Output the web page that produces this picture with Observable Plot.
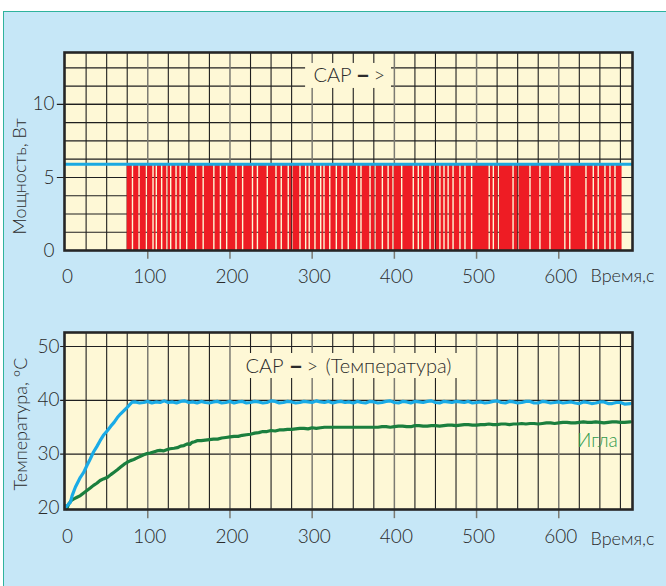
<!DOCTYPE html>
<html><head><meta charset="utf-8">
<script src="https://cdn.jsdelivr.net/npm/d3@7"></script>
<script src="https://cdn.jsdelivr.net/npm/@observablehq/plot@0.6"></script>
<style>
html,body{margin:0;padding:0;background:#fff;width:666px;height:586px;overflow:hidden;}
#bg{position:absolute;left:3px;top:11px;right:0;bottom:0;background:#c6e7f7;border-top:1.5px solid #2fb39d;border-left:1.5px solid #2fb39d;}
#top,#bot{position:absolute;left:0;}
#top{top:0;} #bot{top:290px;}
</style></head><body>
<div id="bg"></div><div id="top"></div><div id="bot"></div>
<script>
// ---- data ----
const timeTicks = [0, 100, 200, 300, 400, 500, 600];
const powerTicks = [0, 5, 10];
const tempTicks = [20, 30, 40, 50];
const timeLabel = "Время,с";
const powerTitle = "Мощность, Вт";
const tempTitle = "Температура, °С";
const noteHead = "САР";
const noteDash = "–";
const noteArrow = ">";
const noteTail = "(Температура)";
const needleLabel = "Игла";

const powerLevel = 5.9;          // constant available power (blue)
const pwmStart = 75, pwmEnd = 677, pwmHigh = 5.85;
// moments where the PWM signal leaves a gap (pale stripes), seconds
const pwmGaps = [82, 90, 99, 107, 111, 117.5, 124, 128.5, 135, 140, 148, 159, 168, 181, 189, 196.6,
  208, 216, 228, 234, 246, 256.6, 263, 271.5, 276, 285.8, 292.7, 297, 304, 311, 315, 322, 330, 337,
  344.5, 354.7, 360, 371, 377, 386, 393, 399, 409.5, 423.6, 429.7, 434.5, 444, 450, 456, 461, 466,
  472, 480.4, 486.5, 494.6, 516, 521, 527, 545, 551, 565.6, 577.7, 589.9, 608, 614, 633.7, 642.6,
  648.6, 656.8, 662.9, 669];

// temperature, regulated point (blue)
const tempCtrl = [[0,20.1],[3,20.6],[6,21.1],[8,22.3],[12,23.9],[18,25.7],[22,26.6],[26,27.9],[30,29.1],[34,30.4],
  [38,31.4],[42,32.5],[46,33.5],[51,34.4],[55,35.2],[59,35.9],[63,36.8],[67,37.5],[71,38.1],[75,38.7],[78,39.2],[81,39.65],
  [85,39.7],[90,39.5],[95,39.6],[100,39.8],[105,39.5],[110,39.7],[115,39.6],[120,39.9],[125,39.6],[130,39.7],[135,39.5],[140,39.8],[145,39.9],[150,39.6],[155,39.7],[160,39.5],[165,39.8],[170,39.6],[175,39.5],
  [180,39.7],[185,39.8],[190,39.5],[195,39.6],[200,39.8],[205,39.5],[210,39.7],[215,39.8],[220,39.5],[225,39.6],[230,39.8],[235,39.7],[240,39.5],[245,39.6],[250,39.9],[255,39.8],[260,39.5],[265,39.6],[270,39.8],[275,39.7],
  [280,39.5],[285,39.6],[290,39.8],[295,39.7],[300,39.6],[305,39.9],[310,39.7],[315,39.6],[320,39.8],[325,39.5],[330,39.7],[335,39.8],[340,39.6],[345,39.7],[350,39.5],[355,39.8],[360,39.6],[365,39.5],[370,39.8],[375,39.7],
  [380,39.5],[385,39.6],[390,39.8],[395,39.9],[400,39.6],[405,39.5],[410,39.8],[415,39.7],[420,39.5],[425,39.8],[430,39.7],[435,39.6],[440,39.8],[445,39.9],[450,39.6],[455,39.5],[460,39.8],[465,39.7],[470,39.6],[475,39.8],
  [480,39.7],[485,39.6],[490,39.8],[495,39.5],[500,39.6],[505,39.7],[510,39.5],[515,39.6],[520,39.8],[525,39.9],[530,39.6],[535,39.5],[540,39.8],[545,39.7],[550,39.5],[555,39.6],[560,39.8],[565,39.8],[570,39.5],[575,39.5],
  [580,39.8],[585,39.7],[590,39.5],[595,39.6],[600,39.7],[605,39.5],[610,39.6],[615,39.7],[620,39.5],[625,39.4],[630,39.7],[635,39.6],[640,39.4],[645,39.5],[650,39.7],[655,39.7],[660,39.4],[665,39.4],[670,39.6],[675,39.6],[680,39.3],[687,39.4]];

// temperature at the needle (green)
const tempNeedle = [[0,20.4],[1.5,19.9],[4,20.8],[7,21.4],[10,21.7],[14,22.0],[18,22.3],[22,22.8],[26,23.25],[30,23.7],
  [34,24.2],[38,24.6],[42,25.1],[46,25.4],[51,25.7],[55,26.2],[59,26.65],[63,27.1],[67,27.6],[71,28.1],[75,28.5],
  [79,28.8],[83,29.0],[87,29.3],[91,29.6],[95,29.9],[99,30.1],[103,30.2],[107,30.4],[111,30.6],[115,30.7],[119,30.6],[123,30.8],[127,31.0],[132,31.1],[136,31.2],[140,31.5],
  [144,31.6],[148,31.9],[151,31.8],[154,32.2],[157,32.3],[160,32.5],[165,32.5],[170,32.6],[175,32.7],[180,32.8],[185,32.8],[190,33.0],[195,33.1],[200,33.2],[205,33.3],[210,33.3],[215,33.5],[220,33.6],[225,33.7],[230,33.9],
  [235,34.0],[240,34.2],[245,34.2],[250,34.4],[255,34.3],[260,34.5],[265,34.5],[270,34.6],[275,34.6],[280,34.7],[285,34.8],[290,34.8],[295,34.7],[300,34.9],[305,34.8],[310,34.9],[315,35.0],[320,35.0],[330,35.0],
  [340,35.0],[350,35.0],[360,35.0],[370,35.0],[380,35.0],[385,35.1],[390,35.1],[395,35.0],[400,35.1],[405,35.2],[410,35.2],[415,35.1],[420,35.1],[425,35.3],[430,35.3],[435,35.2],
  [440,35.2],[445,35.3],[450,35.3],[455,35.2],[460,35.3],[465,35.4],[470,35.4],[475,35.3],[480,35.4],[485,35.5],[490,35.5],[495,35.4],[500,35.4],[505,35.5],[510,35.5],[515,35.6],[520,35.5],[525,35.5],[530,35.6],
  [535,35.6],[540,35.5],[545,35.6],[550,35.6],[555,35.7],[560,35.6],[565,35.7],[570,35.7],[575,35.6],[580,35.7],[585,35.8],[590,35.8],[595,35.7],[600,35.8],[605,35.9],[610,35.9],[615,35.8],[620,35.8],[625,35.9],[630,36.0],
  [635,35.9],[640,35.9],[645,36.0],[650,35.9],[655,35.8],[660,35.9],[665,36.0],[670,36.0],[675,35.9],[680,35.9],[687,36.0]];

// ---- styling ----
const font = "Lato, 'Open Sans', sans-serif";
const ink = "#2b2b2b";
const paper = "#fef8d6";
const gridDark = "#1f1f1f";
const gridMajor = "#7b7a72";
const xDom = [-1.3, 689.7];
const minorX = d3.range(25, 689, 25).filter(d => d % 100 !== 0);
const majorX = timeTicks.filter(d => d > 0);
const tw = 300;

// PWM "on" bands between the gaps
const half = 0.85;
const pwmOn = [];
{ let s = pwmStart;
  for (const g of pwmGaps) { pwmOn.push({x1: s, x2: g - half}); s = g + half; }
  pwmOn.push({x1: s, x2: pwmEnd}); }

const common = {
  width: 666, marginLeft: 64, marginRight: 34,
  style: {background: "transparent", fontFamily: font, overflow: "visible", color: ink}
};

// ---- top chart: power ----
const yTop = [0, 13.55];
const topPlot = Plot.plot({
  ...common, height: 290, marginTop: 52, marginBottom: 40,
  x: {domain: xDom, axis: null},
  y: {domain: yTop, axis: null},
  marks: [
    Plot.frame({fill: paper, stroke: null}),
    Plot.ruleY(d3.range(1.25, 13, 1.25), {x1: xDom[0], x2: xDom[1], stroke: gridDark, strokeWidth: 1.1}),
    Plot.ruleY(powerTicks.filter(d => d > 0), {x1: -10, x2: xDom[1], stroke: gridDark, strokeWidth: 1.1}),
    Plot.ruleX(minorX, {y1: 0, y2: yTop[1], stroke: gridDark, strokeWidth: 1.1}),
    Plot.ruleX(majorX, {y1: -0.6, y2: yTop[1], stroke: gridMajor, strokeWidth: 1.5}),
    Plot.rect(pwmOn, {x1: "x1", x2: "x2", y1: 0, y2: pwmHigh, fill: "#ee1c24"}),
    Plot.ruleY([powerLevel], {stroke: "#1aa9e1", strokeWidth: 3}),
    Plot.rect([{x1: 292, x2: 396.5, y1: 11.09, y2: 12.8}], {x1: "x1", x2: "x2", y1: "y1", y2: "y2", fill: paper}),
    Plot.text([noteHead], {x: 301.6, y: 11.98, text: d => d, textAnchor: "start", fontSize: 20, fontWeight: tw, fill: ink}),
    Plot.text([noteDash], {x: 361.8, y: 11.98, text: d => d, fontSize: 25, fontWeight: 900, fill: ink}),
    Plot.text([noteArrow], {x: 374.6, y: 11.98, text: d => d, textAnchor: "start", fontSize: 20, fontWeight: tw, fill: ink}),
    Plot.frame({stroke: "#262626", strokeWidth: 2.6}),
    Plot.text(timeTicks, {x: d => d, y: 0, dy: 26, dx: 2, text: d => String(d), fontSize: 19, fontWeight: tw, fill: ink}),
    Plot.text([timeLabel], {x: 638.6, y: 0, dy: 26, text: d => d, textAnchor: "start", fontSize: 18, fontWeight: tw, fill: ink}),
    Plot.text(powerTicks, {x: xDom[0], y: d => d, dx: -10, text: d => String(d), textAnchor: "end", fontSize: 19, fontWeight: tw, fill: ink}),
    Plot.text([powerTitle], {x: xDom[0], y: 5.07, dx: -44, text: d => d, rotate: -90, fontSize: 18, fontWeight: tw, fill: ink})
  ]
});
document.getElementById("top").appendChild(topPlot);

// ---- bottom chart: temperature ----
const yBot = [19.72, 52.6];
const botPlot = Plot.plot({
  ...common, height: 296, marginTop: 42, marginBottom: 77,
  x: {domain: xDom, axis: null},
  y: {domain: yBot, axis: null},
  marks: [
    Plot.frame({fill: paper, stroke: null}),
    Plot.ruleY(tempTicks.filter(d => d > 20), {x1: -6, x2: xDom[1], stroke: gridDark, strokeWidth: 1.1}),
    Plot.ruleX(minorX, {y1: yBot[0], y2: yBot[1], stroke: gridDark, strokeWidth: 1.1}),
    Plot.ruleX(majorX, {y1: yBot[0] - 1.7, y2: yBot[1], stroke: gridMajor, strokeWidth: 1.5}),
    Plot.rect([{x1: 210.4, x2: 486.6, y1: 44.05, y2: 48.7}], {x1: "x1", x2: "x2", y1: "y1", y2: "y2", fill: paper}),
    Plot.text([noteHead], {x: 218.9, y: 46.3, text: d => d, textAnchor: "start", fontSize: 20, fontWeight: tw, fill: ink}),
    Plot.text([noteDash], {x: 280.3, y: 46.3, text: d => d, fontSize: 25, fontWeight: 900, fill: ink}),
    Plot.text([noteArrow], {x: 293.1, y: 46.3, text: d => d, textAnchor: "start", fontSize: 20, fontWeight: tw, fill: ink}),
    Plot.text([noteTail], {x: 316.3, y: 46.3, text: d => d, textAnchor: "start", fontSize: 20, fontWeight: tw, fill: ink}),
    Plot.line(tempNeedle, {x: d => d[0], y: d => d[1], stroke: "#1b7f3e", strokeWidth: 3.2}),
    Plot.line(tempCtrl, {x: d => d[0], y: d => d[1], stroke: "#1aabe6", strokeWidth: 3.2}),
    Plot.text([needleLabel], {x: 647, y: 32.55, text: d => d, fontSize: 19, fontWeight: tw, fill: "#2f9a4c"}),
    Plot.frame({stroke: "#262626", strokeWidth: 2.6}),
    Plot.text(timeTicks, {x: d => d, y: yBot[0], dy: 27, dx: 2, text: d => String(d), fontSize: 19, fontWeight: tw, fill: ink}),
    Plot.text([timeLabel], {x: 638.6, y: yBot[0], dy: 30, text: d => d, textAnchor: "start", fontSize: 18, fontWeight: tw, fill: ink}),
    Plot.text(tempTicks, {x: xDom[0], y: d => d, dx: -5, text: d => String(d), textAnchor: "end", fontSize: 19, fontWeight: tw, fill: ink}),
    Plot.text([tempTitle], {x: xDom[0], y: 35.6, dx: -43, text: d => d, rotate: -90, fontSize: 18, fontWeight: tw, fill: ink})
  ]
});
document.getElementById("bot").appendChild(botPlot);
</script>
</body></html>
